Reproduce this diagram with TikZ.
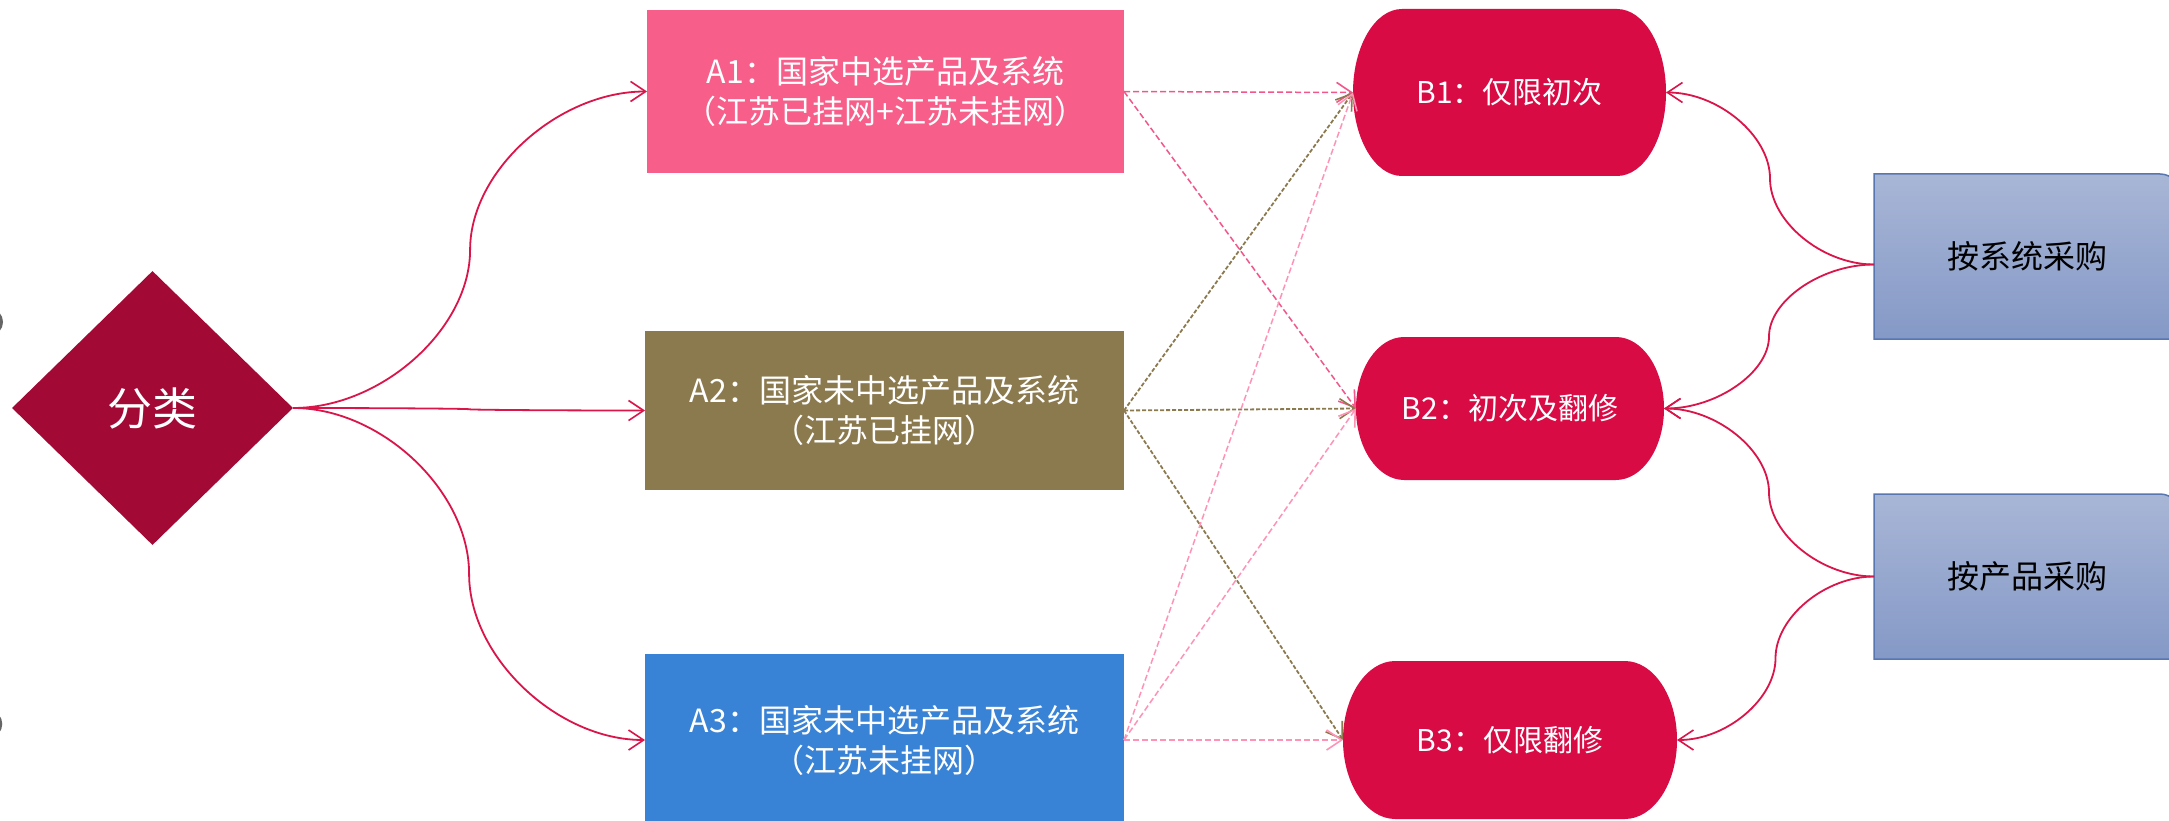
\documentclass[tikz,border=0pt]{standalone}
\usepackage{fontspec}
\setmainfont{Noto Sans CJK SC}
\usetikzlibrary{arrows.meta,shapes.geometric,calc,backgrounds}
\definecolor{cDia}{HTML}{A20935}
\definecolor{cA1}{HTML}{F75E89}
\definecolor{cA2}{HTML}{8C7A4F}
\definecolor{cA3}{HTML}{3983D6}
\definecolor{cB}{HTML}{D80B45}
\definecolor{cLink}{HTML}{D9154A}
\definecolor{cDash1}{HTML}{F2568A}
\definecolor{cDash3}{HTML}{FF93B6}
\definecolor{cSt}{HTML}{A8B6D6}
\definecolor{cSb}{HTML}{8599C7}
\definecolor{cSd}{HTML}{5877B0}
\newcommand\termshape[1]{%
  \fill[cB] let \p1=(#1.north west), \p2=(#1.south east) in
    ({\x1+0.1565*(\x2-\x1)},\y1) -- ({\x2-0.1565*(\x2-\x1)},\y1)
    .. controls ({\x2-0.0701*(\x2-\x1)},\y1) and (\x2,{0.5*(\y1+\y2)+0.27615*(\y1-\y2)}) .. (\x2,{0.5*(\y1+\y2)})
    .. controls (\x2,{0.5*(\y1+\y2)-0.27615*(\y1-\y2)}) and ({\x2-0.0701*(\x2-\x1)},\y2) .. ({\x2-0.1565*(\x2-\x1)},\y2)
    -- ({\x1+0.1565*(\x2-\x1)},\y2)
    .. controls ({\x1+0.0701*(\x2-\x1)},\y2) and (\x1,{0.5*(\y1+\y2)-0.27615*(\y1-\y2)}) .. (\x1,{0.5*(\y1+\y2)})
    .. controls (\x1,{0.5*(\y1+\y2)+0.27615*(\y1-\y2)}) and ({\x1+0.0701*(\x2-\x1)},\y1) .. ({\x1+0.1565*(\x2-\x1)},\y1) -- cycle;}
\newcommand\snipshape[1]{%
  \shade[top color=cSt, bottom color=cSb, draw=cSd, line width=1.5pt]
    (#1.south west) -- (#1.north west) -- ([xshift=-20pt]#1.north east)
    .. controls ([xshift=-9pt]#1.north east) and ([yshift=-9pt]#1.north east) .. ([yshift=-20pt]#1.north east)
    -- (#1.south east) -- cycle;}
\begin{document}
\begin{tikzpicture}[x=1pt,y=-1pt,
  abox/.style={rectangle, inner sep=0pt, outer sep=0pt, align=center, text=white,
    font=\fontsize{32}{40}\selectfont},
  bbox/.style={rectangle, inner sep=0pt, outer sep=0pt, text=white,
    font=\fontsize{30}{36}\selectfont},
  sbox/.style={rectangle, inner sep=0pt, outer sep=0pt, minimum width=306pt,
    minimum height=165pt, text=black, font=\fontsize{32}{38}\selectfont},
  tipbarb/.style={-{Straight Barb[length=15pt,width=20pt,line width=1.6pt]}},
  conn/.style={draw=cLink, line width=1.8pt, tipbarb},
  pp/.style={to path={let \p1=(\tikztostart), \p2=(\tikztotarget) in
     .. controls ({\x1+0.25*(\x2-\x1)},\y1) and ({0.5*(\x1+\x2)},{\y1+0.25*(\y2-\y1)}) .. ({0.5*(\x1+\x2)},{0.5*(\y1+\y2)})
     .. controls ({0.5*(\x1+\x2)},{\y1+0.75*(\y2-\y1)}) and ({\x1+0.75*(\x2-\x1)},\y2) .. (\tikztotarget)}},
  dashA/.style={draw=cDash1, line width=1.5pt, dash pattern=on 6pt off 3pt, tipbarb},
  dashB/.style={draw=cA2, line width=1.8pt, dash pattern=on 4pt off 2pt, tipbarb},
  dashC/.style={draw=cDash3, line width=1.5pt, dash pattern=on 6pt off 3pt, tipbarb},
]
\useasboundingbox (0,0) rectangle (2169,821);

% left edge partial marks
\draw[black!60, line width=3pt] (-12,307) .. controls (6,313) and (6,331) .. (-12,337);
\draw[black!60, line width=3pt] (-12,709) .. controls (5,715) and (5,733) .. (-12,739);

% diamond
\node[diamond, fill=cDia, inner sep=0pt, minimum width=281pt, minimum height=274pt,
  text=white, font=\fontsize{45}{50}\selectfont] (D) at (152.5,408) {分类};

% A boxes
\node[abox, fill=cA1, minimum width=477pt, minimum height=163pt] (A1) at (885.5,91.5)
  {A1：国家中选产品及系统\\（江苏已挂网+江苏未挂网）};
\node[abox, fill=cA2, minimum width=479pt, minimum height=159pt] (A2) at (884.5,410.5)
  {A2：国家未中选产品及系统\\（江苏已挂网）};
\node[abox, fill=cA3, minimum width=479pt, minimum height=172pt] (A3) at (884.5,740)
  {A3：国家未中选产品及系统\\（江苏未挂网）};

% B nodes
\node[bbox, minimum width=313pt, minimum height=167pt] (B1) at (1509.5,92.5) {B1：仅限初次};
\node[bbox, minimum width=308pt, minimum height=143pt] (B2) at (1510,408.5) {B2：初次及翻修};
\node[bbox, minimum width=334pt, minimum height=158pt] (B3) at (1510,740) {B3：仅限翻修};

% S nodes
\node[sbox] (S1) at (2027,256.5) {按系统采购};
\node[sbox] (S2) at (2027,576.5) {按产品采购};

\begin{scope}[on background layer]
  \fill[white] (0,0) rectangle (2169,821);
  \termshape{B1}
  \termshape{B2}
  \termshape{B3}
  \snipshape{S1}
  \snipshape{S2}
\end{scope}

% curved connectors
\draw[conn] (D.east) to[pp] (A1.west);
\draw[conn] (D.east) to[pp] (A2.west);
\draw[conn] (D.east) to[pp] (A3.west);
\draw[conn] ([yshift=-8pt]S1.west) to[pp] (B1.east);
\draw[conn] ([yshift=-8pt]S1.west) to[pp] (B2.east);
\draw[conn] (S2.west) to[pp] (B2.east);
\draw[conn] (S2.west) to[pp] (B3.east);

% dashed connectors
\draw[dashA] (A1.east) -- (B1.west);
\draw[dashA] (A1.east) -- (B2.west);
\draw[dashB] (A2.east) -- (B1.west);
\draw[dashB] (A2.east) -- (B2.west);
\draw[dashB] (A2.east) -- (B3.west);
\draw[dashC] (A3.east) -- (B1.west);
\draw[dashC] (A3.east) -- (B2.west);
\draw[dashC] (A3.east) -- (B3.west);
\end{tikzpicture}
\end{document}
